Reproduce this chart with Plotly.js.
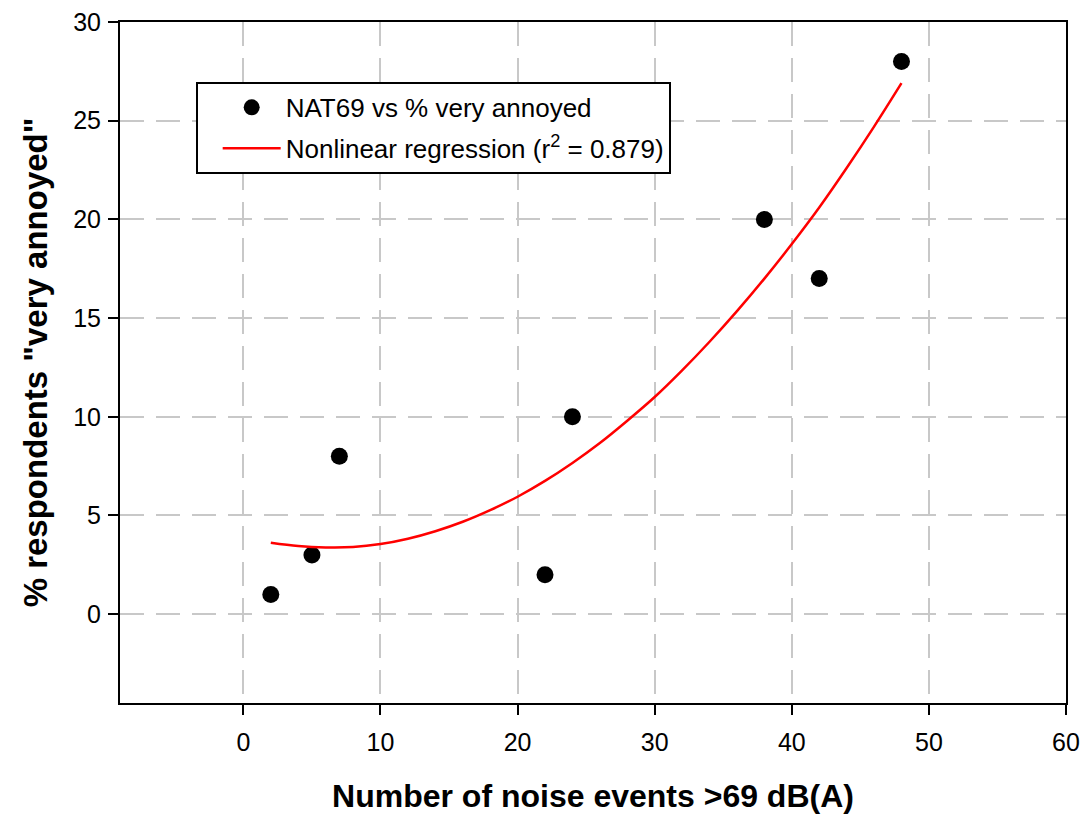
<!DOCTYPE html>
<html>
<head>
<meta charset="utf-8">
<script src="https://cdn.plot.ly/plotly-3.0.1.min.js"></script>
<style>html,body{margin:0;padding:0;background:#fff;}#chart{width:1083px;height:815px;}</style>
</head>
<body>
<div id="chart"></div>
<script>
// Observed data points
var nat69 = [2, 5, 7, 22, 24, 38, 42, 48];
var veryAnnoyed = [1, 3, 8, 2, 10, 20, 17, 28];

// Regression curve
var fitX = [2, 4, 6, 8, 10, 12, 14, 16, 18, 20, 22, 24, 26, 28, 30, 32, 34, 36, 38, 40, 42, 44, 46, 48];
var fitY = [3.62, 3.45, 3.38, 3.40, 3.55, 3.82, 4.20, 4.68, 5.27, 5.95, 6.75, 7.66, 8.67, 9.80, 11.0, 12.35, 13.8, 15.35, 17.0, 18.75, 20.6, 22.6, 24.7, 26.9];

var xTicks = [0, 10, 20, 30, 40, 50, 60];
var yTicks = [0, 5, 10, 15, 20, 25, 30];

var traces = [
  {
    x: nat69, y: veryAnnoyed, type: 'scatter', mode: 'markers',
    name: 'NAT69 vs % very annoyed', legendgroup: 'a',
    marker: {color: '#000000', size: 17}
  },
  {
    x: fitX, y: fitY, type: 'scatter', mode: 'lines',
    name: 'Nonlinear regression (r<sup>2</sup> = 0.879)', legendgroup: 'b',
    line: {color: '#ff0000', width: 2.5, shape: 'spline'}
  }
];

var font = 'Liberation Sans, Arial, sans-serif';
var layout = {
  width: 1083, height: 815,
  paper_bgcolor: '#ffffff', plot_bgcolor: '#ffffff',
  margin: {l: 120, r: 17, t: 22, b: 112},
  font: {family: font, color: '#000000', size: 25},
  showlegend: true,
  legend: {
    x: 0.080, y: 0.912, xanchor: 'left', yanchor: 'top',
    bordercolor: '#000000', borderwidth: 2, bgcolor: '#ffffff',
    font: {family: font, size: 26, color: '#000000'},
    tracegroupgap: 4, indentation: 20, itemwidth: 58
  },
  xaxis: {
    range: [-9, 60], tickvals: xTicks, ticktext: xTicks.map(String),
    showline: true, linecolor: '#000000', linewidth: 2, mirror: true,
    ticks: 'outside', ticklen: 10, tickwidth: 2, tickcolor: '#000000',
    showgrid: true, gridcolor: '#c8c8c8', gridwidth: 2, griddash: '24px,12px',
    zeroline: false, ticklabelstandoff: 6,
    tickfont: {family: font, size: 25},
    title: {text: 'Number of noise events >69 dB(A)', font: {family: font, size: 32, weight: 'bold'}, standoff: 30}
  },
  yaxis: {
    range: [-4.5, 30], tickvals: yTicks, ticktext: yTicks.map(String),
    showline: true, linecolor: '#000000', linewidth: 2, mirror: true,
    ticks: 'outside', ticklen: 10, tickwidth: 2, tickcolor: '#000000',
    showgrid: true, gridcolor: '#c8c8c8', gridwidth: 2, griddash: '24px,12px',
    zeroline: false, ticklabelstandoff: 2,
    tickfont: {family: font, size: 25},
    title: {text: '% respondents "very annoyed"', font: {family: font, size: 33, weight: 'bold'}, standoff: 16}
  }
};

Plotly.newPlot('chart', traces, layout, {displayModeBar: false, staticPlot: true});
</script>
</body>
</html>
